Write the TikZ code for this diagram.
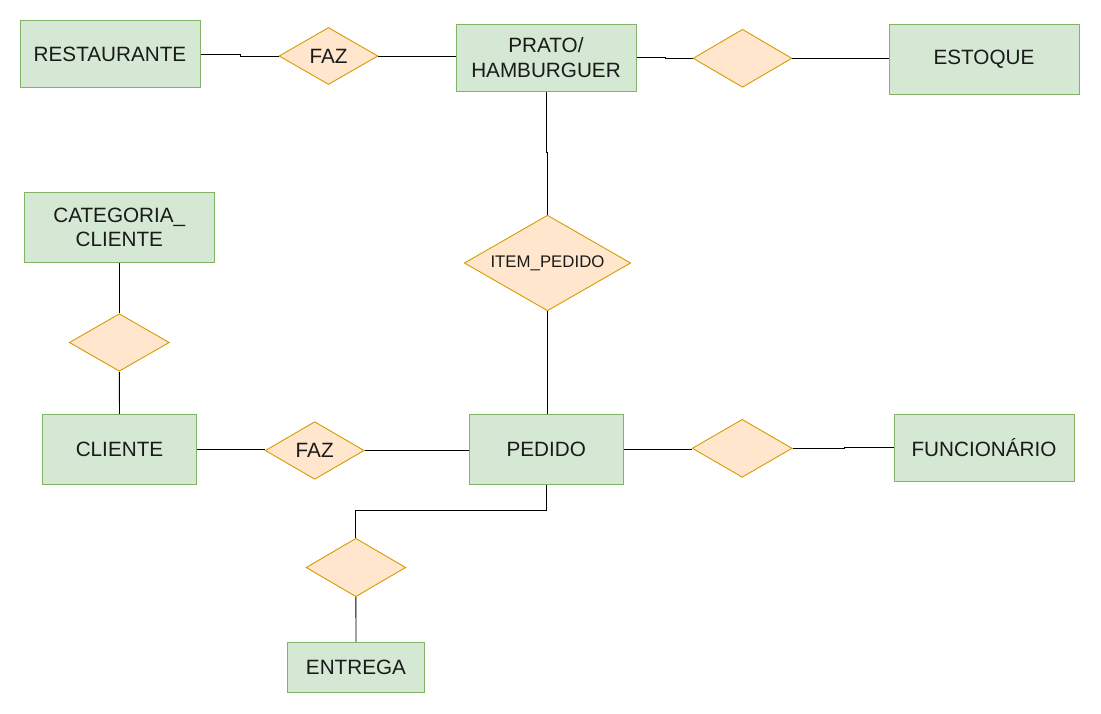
\documentclass[tikz,border=0pt]{standalone}
\usepackage{fontspec}
\setmainfont{Liberation Sans}
\usetikzlibrary{shapes.geometric}
\definecolor{entfill}{HTML}{D5E8D4}
\definecolor{entdraw}{HTML}{82B366}
\definecolor{relfill}{HTML}{FFE6CC}
\definecolor{reldraw}{HTML}{D79B00}
\definecolor{txt}{HTML}{1A1A1A}
\begin{document}
\begin{tikzpicture}[x=1pt,y=-1pt,
  ent/.style={draw=entdraw, fill=entfill, line width=1pt, inner sep=0pt,
    align=center, text=txt, font=\fontsize{20.7}{24.3}\selectfont},
  rel/.style={diamond, aspect=1.7, draw=reldraw, fill=relfill, line width=0.9pt,
    inner sep=0pt, text=txt, font=\fontsize{20.7}{24.3}\selectfont},
  conn/.style={draw=black, line width=0.9pt}]
\useasboundingbox (0,0) rectangle (1101,713);

% entities
\node[ent, minimum width=180pt, minimum height=67pt] (rest) at (110,54.3) {RESTAURANTE};
\node[ent, minimum width=180pt, minimum height=67pt] (prato) at (546,57.7) {PRATO/\\HAMBURGUER};
\node[ent, minimum width=190pt, minimum height=70pt] (estoque) at (984,59.3) {ESTOQUE};
\node[ent, minimum width=190pt, minimum height=70pt] (cat) at (119.3,227.3) {CATEGORIA\_\\CLIENTE};
\node[ent, minimum width=154.4pt, minimum height=70pt] (cliente) at (119.5,449.3) {CLIENTE};
\node[ent, minimum width=154pt, minimum height=70pt] (pedido) at (546.3,449.3) {PEDIDO};
\node[ent, minimum width=180pt, minimum height=67pt] (func) at (984,447.8) {FUNCIONÁRIO};
\node[ent, minimum width=136.6pt, minimum height=50pt] (entrega) at (356,667.3) {ENTREGA};

% relationships
\node[rel, minimum width=99pt, minimum height=57pt] (faz1) at (328.5,56) {FAZ};
\node[rel, minimum width=99pt, minimum height=58pt] (d2) at (742.5,58.3) {};
\node[rel, minimum width=166.4pt, minimum height=95.7pt, font=\fontsize{16.8}{20}\selectfont] (item) at (547.5,263) {ITEM\_PEDIDO};
\node[rel, minimum width=100pt, minimum height=57.6pt] (d3) at (119.3,342.5) {};
\node[rel, minimum width=99pt, minimum height=57.7pt] (faz2) at (314.7,450.5) {FAZ};
\node[rel, minimum width=100pt, minimum height=58pt] (d4) at (742.2,448.3) {};
\node[rel, minimum width=99.7pt, minimum height=58.4pt] (d5) at (355.9,567.5) {};

% connectors
\draw[conn] (rest.east) -- ++(40,0) |- (faz1.west);
\draw[conn] (faz1.east) -- (faz1.east -| prato.west);
\draw[conn] (prato.east) -- ++(29,0) |- (d2.west);
\draw[conn] (d2.east) -- (d2.east -| estoque.west);
\draw[conn] (prato.south) -- ++(0,61) -| (item.north);
\draw[conn] (item.south) -- (item.south |- pedido.north);
\draw[conn] (cat.south) -- (d3.north);
\draw[conn] (d3.south) -- (cliente.north);
\draw[conn] (cliente.east) -- (cliente.east -| faz2.west);
\draw[conn] (faz2.east) -- (faz2.east -| pedido.west);
\draw[conn] (pedido.east) -- (pedido.east -| d4.west);
\draw[conn] (d4.east) -- ++(51.3,0) |- (func.west);
\draw[conn] (pedido.south) -- ++(0,26) -| (d5.north);
\draw[conn] (d5.south) -- (entrega.north);
\end{tikzpicture}
\end{document}
